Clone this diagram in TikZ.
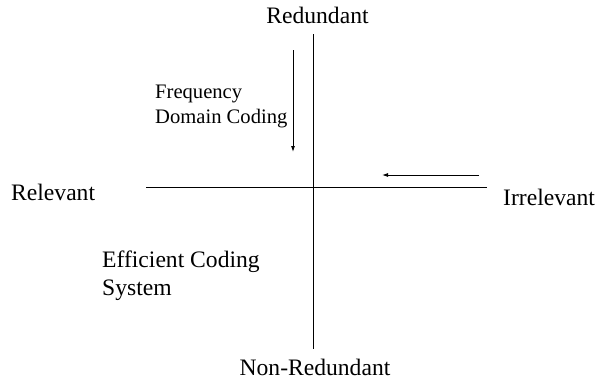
\documentclass[tikz,border=0pt]{standalone}
\usepackage{fontspec}
\setmainfont{Liberation Serif}
\usetikzlibrary{arrows.meta}
\begin{document}
\begin{tikzpicture}[x=1pt,y=-1pt,
  axis/.style={line width=1pt},
  flow/.style={line width=0.9pt,-{Latex[length=6pt,width=4pt]}},
  biglabel/.style={inner sep=0pt,font=\fontsize{23.6}{28}\selectfont},
  smalllabel/.style={inner sep=0pt,align=left,font=\fontsize{20.6}{25}\selectfont}]
\useasboundingbox (0,0) rectangle (597,383);
% axes
\coordinate (top) at (313.5,34);
\coordinate (bottom) at (313.5,349);
\coordinate (left) at (146,187.5);
\coordinate (right) at (487,187.5);
\draw[axis] (top) -- (bottom);
\draw[axis] (left) -- (right);
% axis labels
\node[biglabel,anchor=base] (red) at (317.5,23) {Redundant};
\node[biglabel,anchor=base] (nonred) at (315,375) {Non-Redundant};
\node[biglabel,anchor=base west] (rel) at (11,200) {Relevant};
\node[biglabel,anchor=base west] (irr) at (503,205) {Irrelevant};
% quadrant notes (base anchor sits on the last line)
\node[smalllabel,anchor=base west] (fdc) at (155,123) {Frequency\\Domain Coding};
\node[biglabel,align=left,anchor=base west] (ecs) at (102,295) {Efficient Coding\\System};
% direction arrows
\coordinate (a1) at (293,50);
\coordinate (a2) at (293,152);
\coordinate (b1) at (479,175);
\coordinate (b2) at (382,175);
\draw[flow] (a1) -- (a2);
\draw[flow] (b1) -- (b2);
\end{tikzpicture}
\end{document}
